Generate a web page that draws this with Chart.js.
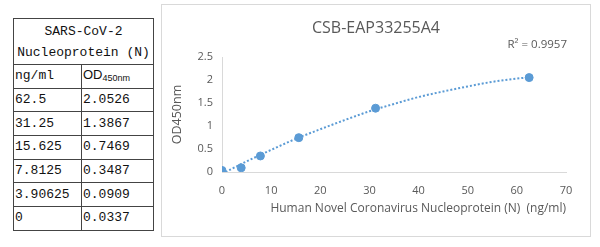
<!DOCTYPE html>
<html>
<head>
<meta charset="utf-8">
<script src="https://cdn.jsdelivr.net/npm/chart.js@4.4.1/dist/chart.umd.min.js"></script>
<style>
    body { margin: 0; width: 600px; height: 247px; background: #fff; position: relative; overflow: hidden; }
    #table { position: absolute; left: 13px; top: 18px; border-collapse: collapse; table-layout: fixed;
             font-family: 'Liberation Mono', monospace; font-size: 13px; color: #111; }
    #table td { border: 1px solid #444; padding: 0 0 0 1px; height: 22.7px; line-height: 16px; white-space: nowrap; overflow: hidden; }
    #table td.head { text-align: center; height: 45px; line-height: 21px; padding: 0; }
    #table td.od { font-family: 'Liberation Sans', Arial, sans-serif; font-size: 13px; }
    #table td.od sub { font-size: 9px; vertical-align: -2px; }
    #box { position: absolute; left: 161px; top: 4px; width: 430px; height: 233px; box-sizing: border-box; border: 1px solid #d9d9d9; }
    #chart { position: absolute; left: 0; top: 0; }
</style>
</head>
<body>
<table id="table">
    <colgroup><col style="width:68px"><col style="width:72px"></colgroup>
    <tbody id="rows">
        <tr><td class="head" colspan="2">SARS-CoV-2<br>Nucleoprotein (N)</td></tr>
        <tr><td>ng/ml</td><td class="od">OD<sub>450nm</sub></td></tr>
    </tbody>
</table>
<div id="box"><canvas id="chart" width="428" height="231"></canvas></div>
<script>
// standard points
const concentrations = [0, 3.90625, 7.8125, 15.625, 31.25, 62.5];
const odValues = [0.0337, 0.0909, 0.3487, 0.7469, 1.3867, 2.0526];

// dotted trendline
const trendX = [0, 5, 10, 15, 20, 25, 30, 35, 40, 45, 50, 55, 60, 62.5];
const trendY = [-0.04, 0.23, 0.48, 0.72, 0.93, 1.13, 1.32, 1.48, 1.63, 1.75, 1.86, 1.96, 2.03, 2.06];

const xTicks = [0, 10, 20, 30, 40, 50, 60, 70];
const yTicks = [0, 0.5, 1, 1.5, 2, 2.5];

const chartTitle = 'CSB-EAP33255A4';
const r2Label = 'R\u00B2 = 0.9957';
const xTitle = 'Human Novel Coronavirus Nucleoprotein (N)  (ng/ml)';
const yTitle = 'OD450nm';

const grey = '#595959';
const blue = '#5B9BD5';

// table rows, highest concentration first
const rows = document.getElementById('rows');
for (let i = concentrations.length - 1; i >= 0; i--) {
    const tr = document.createElement('tr');
    tr.innerHTML = `<td>${concentrations[i]}</td><td>${odValues[i].toFixed(4)}</td>`;
    rows.appendChild(tr);
}

// title and R² text
const titlePlugin = {
    id: 'titles',
    afterDraw(chart) {
        const ctx = chart.ctx;
        ctx.save();
        ctx.fillStyle = grey;
        ctx.textBaseline = 'middle';
        ctx.font = '16px "Open Sans"';
        ctx.textAlign = 'center';
        ctx.fillText(chartTitle, 214, 23);
        ctx.font = '11.5px "Open Sans"';
        ctx.textAlign = 'right';
        ctx.fillText(r2Label, 405, 40);
        ctx.restore();
    }
};

const ctx = document.getElementById('chart').getContext('2d');
new Chart(ctx, {
    type: 'scatter',
    data: {
        datasets: [
            {
                data: concentrations.map((x, i) => ({x: x, y: odValues[i]})),
                backgroundColor: blue,
                borderColor: blue,
                pointRadius: 4,
                order: 1
            },
            {
                type: 'line',
                data: trendX.map((x, i) => ({x: x, y: trendY[i]})),
                borderColor: blue,
                borderWidth: 2,
                borderDash: [2, 2],
                pointRadius: 0,
                fill: false,
                cubicInterpolationMode: 'monotone',
                order: 2
            }
        ]
    },
    options: {
        responsive: false,
        animation: false,
        layout: { padding: { left: 0, right: 24, top: 52, bottom: 0 } },
        plugins: {
            legend: { display: false },
            tooltip: { enabled: false }
        },
        scales: {
            x: {
                type: 'linear',
                min: 0,
                max: 70,
                afterBuildTicks: s => { s.ticks = xTicks.map(v => ({value: v})); },
                afterFit: s => { s.height = 64; },
                grid: { display: false, drawTicks: false },
                border: { display: true, color: '#d9d9d9', width: 1 },
                ticks: { color: grey, padding: 12, font: { family: 'Open Sans', size: 11 }, callback: v => String(v) },
                title: { display: true, text: xTitle, align: 'end', color: grey,
                         font: { family: 'Open Sans', size: 12 }, padding: { top: 0, bottom: 20 } }
            },
            y: {
                type: 'linear',
                min: 0,
                max: 2.5,
                afterBuildTicks: s => { s.ticks = yTicks.map(v => ({value: v})); },
                afterFit: s => { s.width = 60; },
                grid: { display: false, drawTicks: false },
                border: { display: true, color: '#d9d9d9', width: 1 },
                ticks: { color: grey, padding: 9, font: { family: 'Open Sans', size: 11 }, callback: v => String(v) },
                title: { display: true, text: yTitle, color: grey,
                         font: { family: 'Open Sans', size: 12.5 }, padding: { top: 8, bottom: 0 } }
            }
        }
    },
    plugins: [titlePlugin]
});
</script>
</body>
</html>
